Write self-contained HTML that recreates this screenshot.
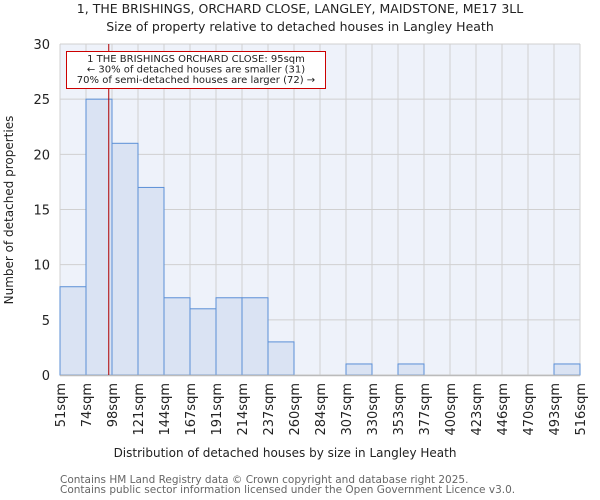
<!DOCTYPE html>
<html><head><meta charset="utf-8"><style>
body{margin:0;background:#fff}
svg{display:block;font-family:"DejaVu Sans","Liberation Sans",sans-serif}
</style></head><body>
<svg id="chart" width="600" height="500" viewBox="0 0 600 500">
<text x="300" y="13" text-anchor="middle" font-size="12.5" fill="#222">1, THE BRISHINGS, ORCHARD CLOSE, LANGLEY, MAIDSTONE, ME17 3LL</text>
<text x="300" y="31" text-anchor="middle" font-size="12.5" fill="#222">Size of property relative to detached houses in Langley Heath</text>
<rect x="60" y="44" width="520" height="331" fill="#eef2fa"/>
<g id="grid"></g><g id="bars"></g><g id="ticks"></g>
<text x="285" y="457" text-anchor="middle" font-size="12" fill="#222">Distribution of detached houses by size in Langley Heath</text>
<text transform="translate(13,210) rotate(-90)" text-anchor="middle" font-size="12" fill="#222">Number of detached properties</text>
<text x="60" y="483" font-size="10.5" fill="#666">Contains HM Land Registry data © Crown copyright and database right 2025.</text>
<text x="60" y="493" font-size="10.5" fill="#666">Contains public sector information licensed under the Open Government Licence v3.0.</text>
<line id="marker" y1="44" y2="375" stroke="#b00000" stroke-width="1"/>
<g>
<rect x="66.5" y="51.5" width="259" height="37" fill="#fff" stroke="#c00" stroke-width="1"/>
<text x="196" y="62" text-anchor="middle" font-size="10" fill="#222">1 THE BRISHINGS ORCHARD CLOSE: 95sqm</text>
<text x="196" y="72.5" text-anchor="middle" font-size="10" fill="#222">← 30% of detached houses are smaller (31)</text>
<text x="196" y="83" text-anchor="middle" font-size="10" fill="#222">70% of semi-detached houses are larger (72) →</text>
</g>
</svg>
<script>
const binLabels=["51sqm","74sqm","98sqm","121sqm","144sqm","167sqm","191sqm","214sqm","237sqm","260sqm","284sqm","307sqm","330sqm","353sqm","377sqm","400sqm","423sqm","446sqm","470sqm","493sqm","516sqm"];
const binEdges=[51,74,98,121,144,167,191,214,237,260,284,307,330,353,377,400,423,446,470,493,516];
const counts=[8,25,21,17,7,6,7,7,3,0,0,1,0,1,0,0,0,0,0,1];
const yTicks=[0,5,10,15,20,25,30];
const propertySize=95;
const NS="http://www.w3.org/2000/svg";
const X0=60,X1=580,Y0=375,Y1=44,YMAX=30,n=counts.length;
const xi=i=>X0+(X1-X0)*i/n;
const y=v=>Y0-(Y0-Y1)*v/YMAX;
function xv(v){for(let i=0;i<binEdges.length-1;i++){if(v<=binEdges[i+1]){return xi(i)+(xi(i+1)-xi(i))*(v-binEdges[i])/(binEdges[i+1]-binEdges[i]);}}return X1;}
function mk(t,a,p){const e=document.createElementNS(NS,t);for(const k in a)e.setAttribute(k,a[k]);p.appendChild(e);return e;}
const grid=document.getElementById('grid'),bars=document.getElementById('bars'),ticks=document.getElementById('ticks');
for(let i=0;i<=n;i++){const l=mk('line',{x1:xi(i),x2:xi(i),y1:Y1,y2:Y0,stroke:'#d0d0d0'},grid);

}
yTicks.forEach(t=>{const l=mk('line',{x1:X0,x2:X1,y1:y(t),y2:y(t),stroke:'#d0d0d0'},grid);


const tx=mk('text',{x:50,y:y(t)+5,'text-anchor':'end','font-size':13,fill:'#222'},ticks);tx.textContent=t;

});
counts.forEach((c,i)=>{if(c<=0)return;const r=mk('rect',{x:xi(i),y:y(c),width:xi(i+1)-xi(i),height:Y0-y(c),fill:'#dae3f3',stroke:'#5b8fd6','stroke-width':1},bars);

});
const ax=mk('line',{x1:X0,x2:X1,y1:Y0+0.5,y2:Y0+0.5,stroke:'#bbb','stroke-width':1.5},ticks);


binLabels.forEach((lb,i)=>{const tx=mk('text',{transform:`translate(${xi(i)+5},${Y0+8}) rotate(-90)`,'text-anchor':'end','font-size':13,fill:'#222'},ticks);tx.textContent=lb;

});
const m=document.getElementById('marker');const mx=xv(propertySize);m.setAttribute('x1',mx);m.setAttribute('x2',mx);
</script>
</body></html>
